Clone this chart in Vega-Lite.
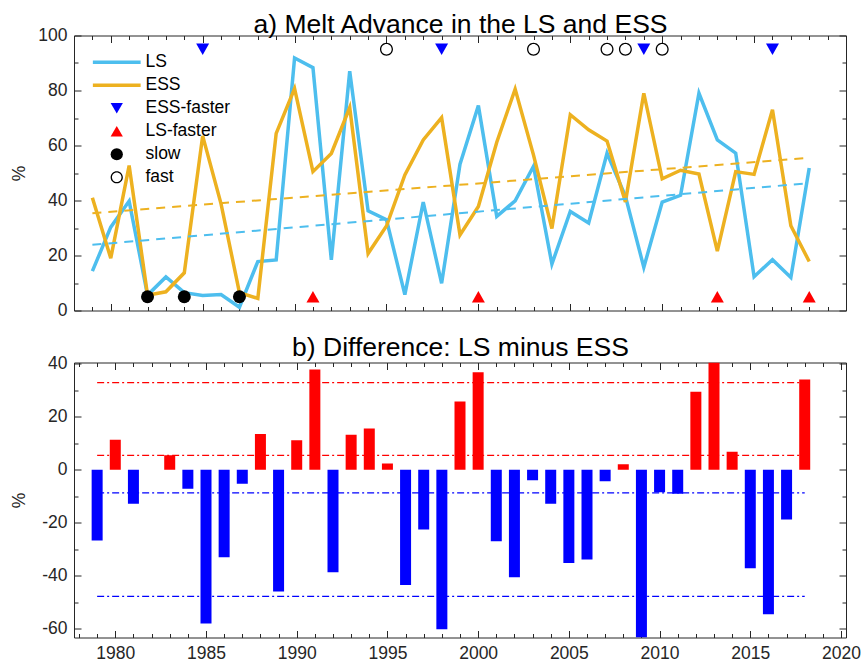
{
  "$schema": "https://vega.github.io/schema/vega-lite/v6.json",
  "padding": {"left": 9, "top": 10.5, "right": 0, "bottom": 0},
  "bounds": "flush",
  "spacing": 52,
  "resolve": {"scale": {"color": "independent", "stroke": "independent", "fill": "independent", "shape": "independent"}},
  "config": {
    "font": "Liberation Sans",
    "view": {"stroke": "#262626", "strokeWidth": 1},
    "axis": {
      "domain": false,
      "grid": false,
      "tickColor": "#262626",
      "tickWidth": 1,
      "labelFont": "Liberation Sans",
      "labelFontSize": 17.5,
      "labelColor": "#262626",
      "labelOverlap": false,
      "labelFlush": false,
      "labelBound": false,
      "titleFont": "Liberation Sans",
      "titleFontSize": 17.5,
      "titleFontWeight": "normal",
      "titleColor": "#262626"
    }
  },
  "datasets": {
    "melt": [
      {"year": 1979, "LS": 14.3, "ESS": 41.0, "diff": -26.7},
      {"year": 1980, "LS": 30.3, "ESS": 19.0, "diff": 11.3},
      {"year": 1981, "LS": 39.8, "ESS": 52.7, "diff": -12.9},
      {"year": 1982, "LS": 5.6, "ESS": 5.6, "diff": 0.0},
      {"year": 1983, "LS": 12.2, "ESS": 6.8, "diff": 5.4},
      {"year": 1984, "LS": 6.5, "ESS": 13.7, "diff": -7.2},
      {"year": 1985, "LS": 5.5, "ESS": 63.5, "diff": -58.0},
      {"year": 1986, "LS": 5.8, "ESS": 38.8, "diff": -33.0},
      {"year": 1987, "LS": 1.2, "ESS": 6.5, "diff": -5.3},
      {"year": 1988, "LS": 17.8, "ESS": 4.4, "diff": 13.4},
      {"year": 1989, "LS": 18.4, "ESS": 64.4, "diff": -46.0},
      {"year": 1990, "LS": 91.8, "ESS": 80.7, "diff": 11.1},
      {"year": 1991, "LS": 88.3, "ESS": 50.5, "diff": 37.8},
      {"year": 1992, "LS": 18.4, "ESS": 57.1, "diff": -38.7},
      {"year": 1993, "LS": 87.0, "ESS": 73.8, "diff": 13.2},
      {"year": 1994, "LS": 36.2, "ESS": 20.7, "diff": 15.5},
      {"year": 1995, "LS": 33.0, "ESS": 30.7, "diff": 2.3},
      {"year": 1996, "LS": 5.8, "ESS": 49.3, "diff": -43.5},
      {"year": 1997, "LS": 39.4, "ESS": 62.0, "diff": -22.6},
      {"year": 1998, "LS": 9.9, "ESS": 70.1, "diff": -60.2},
      {"year": 1999, "LS": 53.2, "ESS": 27.5, "diff": 25.7},
      {"year": 2000, "LS": 74.5, "ESS": 37.8, "diff": 36.7},
      {"year": 2001, "LS": 34.2, "ESS": 61.2, "diff": -27.0},
      {"year": 2002, "LS": 39.9, "ESS": 80.5, "diff": -40.6},
      {"year": 2003, "LS": 52.5, "ESS": 56.5, "diff": -4.0},
      {"year": 2004, "LS": 16.9, "ESS": 29.8, "diff": -12.9},
      {"year": 2005, "LS": 36.0, "ESS": 71.2, "diff": -35.2},
      {"year": 2006, "LS": 31.8, "ESS": 65.7, "diff": -33.9},
      {"year": 2007, "LS": 57.2, "ESS": 61.6, "diff": -4.4},
      {"year": 2008, "LS": 41.5, "ESS": 39.5, "diff": 2.0},
      {"year": 2009, "LS": 15.7, "ESS": 79.0, "diff": -63.3},
      {"year": 2010, "LS": 39.4, "ESS": 47.9, "diff": -8.5},
      {"year": 2011, "LS": 41.9, "ESS": 51.0, "diff": -9.1},
      {"year": 2012, "LS": 79.0, "ESS": 49.6, "diff": 29.4},
      {"year": 2013, "LS": 62.0, "ESS": 21.6, "diff": 40.4},
      {"year": 2014, "LS": 57.2, "ESS": 50.5, "diff": 6.7},
      {"year": 2015, "LS": 12.3, "ESS": 49.5, "diff": -37.2},
      {"year": 2016, "LS": 18.5, "ESS": 73.0, "diff": -54.5},
      {"year": 2017, "LS": 12.0, "ESS": 30.8, "diff": -18.8},
      {"year": 2018, "LS": 51.8, "ESS": 17.8, "diff": 34.0}
    ],
    "trend": [
      {"series": "LS", "year": 1979, "pct": 23.9},
      {"series": "LS", "year": 2018, "pct": 46.3},
      {"series": "ESS", "year": 1979, "pct": 35.4},
      {"series": "ESS", "year": 2018, "pct": 55.5}
    ],
    "events": [
      {"year": 1985, "cat": "ESS-faster", "pct": 95},
      {"year": 1998, "cat": "ESS-faster", "pct": 95},
      {"year": 2009, "cat": "ESS-faster", "pct": 95},
      {"year": 2016, "cat": "ESS-faster", "pct": 95},
      {"year": 1991, "cat": "LS-faster", "pct": 5},
      {"year": 2000, "cat": "LS-faster", "pct": 5},
      {"year": 2013, "cat": "LS-faster", "pct": 5},
      {"year": 2018, "cat": "LS-faster", "pct": 5},
      {"year": 1982, "cat": "slow", "pct": 5},
      {"year": 1984, "cat": "slow", "pct": 5},
      {"year": 1987, "cat": "slow", "pct": 5},
      {"year": 1995, "cat": "fast", "pct": 95},
      {"year": 2003, "cat": "fast", "pct": 95},
      {"year": 2007, "cat": "fast", "pct": 95},
      {"year": 2008, "cat": "fast", "pct": 95},
      {"year": 2010, "cat": "fast", "pct": 95}
    ],
    "bands": [
      {"kind": "pos", "start": 1979, "end": 2018, "value": 32.8},
      {"kind": "pos", "start": 1979, "end": 2018, "value": 5.4},
      {"kind": "neg", "start": 1979, "end": 2018, "value": -8.8},
      {"kind": "neg", "start": 1979, "end": 2018, "value": -47.8}
    ]
  },
  "vconcat": [
    {
      "width": 772,
      "height": 275,
      "resolve": {"axis": {"x": "independent", "y": "independent"}},
      "layer": [
        {
          "data": {"name": "melt"},
          "transform": [{"fold": ["LS", "ESS"], "as": ["series", "pct"]}],
          "mark": {"type": "line", "strokeWidth": 3.5, "clip": true},
          "encoding": {
            "x": {
              "field": "year", "type": "quantitative",
              "scale": {"domain": [1978, 2020], "nice": false, "zero": false},
              "axis": {
                "orient": "bottom", "title": null, "labels": false,
                "values": [1978,1979,1980,1981,1982,1983,1984,1985,1986,1987,1988,1989,1990,1991,1992,1993,1994,1995,1996,1997,1998,1999,2000,2001,2002,2003,2004,2005,2006,2007,2008,2009,2010,2011,2012,2013,2014,2015,2016,2017,2018,2019,2020],
                "tickSize": {"condition": {"test": "datum.value % 5 === 0", "value": -7}, "value": -4}
              }
            },
            "y": {
              "field": "pct", "type": "quantitative",
              "scale": {"domain": [0, 100], "nice": false},
              "axis": {
                "orient": "left", "title": "%", "titleX": -55, "titleY": 137.5, "titleAngle": 270, "titleAlign": "center", "titleBaseline": "middle",
                "values": [0,10,20,30,40,50,60,70,80,90,100],
                "labelExpr": "datum.value % 20 === 0 ? '' + datum.value : ''",
                "labelPadding": 14,
                "tickSize": {"condition": {"test": "datum.value % 20 === 0", "value": -7}, "value": -4}
              }
            },
            "stroke": {
              "field": "series", "type": "nominal",
              "scale": {"domain": ["LS", "ESS", "ESS-faster", "LS-faster", "slow", "fast"], "range": ["#4DBEEE", "#EDB120", "#0000FF", "#FF0000", "#000000", "#000000"]},
              "legend": {
                "orient": "none", "legendX": 34, "legendY": 18, "title": null,
                "labelFont": "Liberation Sans", "labelFontSize": 17.5, "labelColor": "#000000",
                "symbolSize": 150, "symbolStrokeWidth": 0, "rowPadding": 4, "labelOffset": 20, "symbolOffset": 0,
                "encode": {
                  "symbols": {
                    "update": {
                      "shape": {"signal": "datum.value === 'LS' || datum.value === 'ESS' ? 'M-3.9,-0.29H3.9V0.29H-3.9Z' : datum.value === 'ESS-faster' ? 'triangle-down' : datum.value === 'LS-faster' ? 'triangle-up' : datum.value === 'slow' ? 'circle' : 'M-1,0A1,1,0,1,0,1,0A1,1,0,1,0,-1,0ZM-0.78,0A0.78,0.78,0,1,1,0.78,0A0.78,0.78,0,1,1,-0.78,0Z'"},
                      "fill": {"signal": "datum.value === 'LS' ? '#4DBEEE' : datum.value === 'ESS' ? '#EDB120' : datum.value === 'ESS-faster' ? '#0000FF' : datum.value === 'LS-faster' ? '#FF0000' : '#000000'"},
                      "stroke": {"value": "transparent"},
                      "opacity": {"value": 1},
                      "fillOpacity": {"value": 1}
                    }
                  }
                }
              }
            }
          }
        },
        {
          "data": {"name": "trend"},
          "mark": {"type": "line", "strokeWidth": 2, "strokeDash": [9, 7]},
          "encoding": {
            "x": {
              "field": "year", "type": "quantitative",
              "scale": {"domain": [1978, 2020], "nice": false, "zero": false},
              "axis": {
                "orient": "top", "labels": false,
                "title": "a) Melt Advance in the LS and ESS",
                "titleFontSize": 26.5, "titleColor": "#000000", "titleFontWeight": "normal",
                "titleX": 386, "titleY": -2.6, "titleAlign": "center", "titleBaseline": "alphabetic",
                "values": [1978,1979,1980,1981,1982,1983,1984,1985,1986,1987,1988,1989,1990,1991,1992,1993,1994,1995,1996,1997,1998,1999,2000,2001,2002,2003,2004,2005,2006,2007,2008,2009,2010,2011,2012,2013,2014,2015,2016,2017,2018,2019,2020],
                "tickSize": {"condition": {"test": "datum.value % 5 === 0", "value": -7}, "value": -4}
              }
            },
            "y": {
              "field": "pct", "type": "quantitative",
              "scale": {"domain": [0, 100], "nice": false},
              "axis": {
                "orient": "right", "title": null, "labels": false,
                "values": [0,10,20,30,40,50,60,70,80,90,100],
                "tickSize": {"condition": {"test": "datum.value % 20 === 0", "value": -7}, "value": -4}
              }
            },
            "color": {
              "field": "series", "type": "nominal",
              "scale": {"domain": ["LS", "ESS"], "range": ["#4DBEEE", "#EDB120"]},
              "legend": null
            }
          }
        },
        {
          "data": {"name": "events"},
          "mark": {"type": "point", "filled": true, "size": 169, "opacity": 1, "strokeWidth": 0},
          "encoding": {
            "x": {"field": "year", "type": "quantitative", "scale": {"domain": [1978, 2020], "nice": false, "zero": false}, "axis": null},
            "y": {"field": "pct", "type": "quantitative", "scale": {"domain": [0, 100], "nice": false}, "axis": null},
            "shape": {
              "field": "cat", "type": "nominal",
              "scale": {"domain": ["ESS-faster", "LS-faster", "slow", "fast"], "range": ["triangle-down", "triangle-up", "circle", "M-1,0A1,1,0,1,0,1,0A1,1,0,1,0,-1,0ZM-0.8,0A0.8,0.8,0,1,1,0.8,0A0.8,0.8,0,1,1,-0.8,0Z"]},
              "legend": null
            },
            "fill": {
              "field": "cat", "type": "nominal",
              "scale": {"domain": ["ESS-faster", "LS-faster", "slow", "fast"], "range": ["#0000FF", "#FF0000", "#000000", "#000000"]},
              "legend": null
            }
          }
        }
      ]
    },
    {
      "width": 772,
      "height": 275,
      "resolve": {"axis": {"x": "independent", "y": "independent"}},
      "layer": [
        {
          "data": {"name": "melt"},
          "mark": {"type": "bar", "size": 11, "clip": true},
          "encoding": {
            "x": {
              "field": "year", "type": "quantitative",
              "scale": {"domain": [1978, 2020], "nice": false, "zero": false},
              "axis": {
                "orient": "bottom", "title": null,
                "values": [1978,1979,1980,1981,1982,1983,1984,1985,1986,1987,1988,1989,1990,1991,1992,1993,1994,1995,1996,1997,1998,1999,2000,2001,2002,2003,2004,2005,2006,2007,2008,2009,2010,2011,2012,2013,2014,2015,2016,2017,2018,2019,2020],
                "labelExpr": "datum.value % 5 === 0 ? '' + datum.value : ''",
                "labelPadding": 14,
                "tickSize": {"condition": {"test": "datum.value % 5 === 0", "value": -7}, "value": -4}
              }
            },
            "y": {
              "field": "diff", "type": "quantitative",
              "scale": {"domain": [-63.3, 40.4], "nice": false},
              "axis": {
                "orient": "left", "title": "%", "titleX": -55, "titleY": 137.5, "titleAngle": 270, "titleAlign": "center", "titleBaseline": "middle",
                "values": [-60,-50,-40,-30,-20,-10,0,10,20,30,40],
                "labelExpr": "datum.value % 20 === 0 ? '' + datum.value : ''",
                "labelPadding": 14,
                "tickSize": {"condition": {"test": "datum.value % 20 === 0", "value": -7}, "value": -4}
              }
            },
            "color": {"condition": {"test": "datum.diff > 0", "value": "#FF0000"}, "value": "#0000FF"}
          }
        },
        {
          "data": {"name": "bands"},
          "mark": {"type": "rule", "strokeWidth": 1.2, "strokeDash": [7, 3, 2, 3]},
          "encoding": {
            "x": {
              "field": "start", "type": "quantitative",
              "scale": {"domain": [1978, 2020], "nice": false, "zero": false},
              "axis": {
                "orient": "top", "labels": false,
                "title": "b) Difference: LS minus ESS",
                "titleFontSize": 26.5, "titleColor": "#000000", "titleFontWeight": "normal",
                "titleX": 386, "titleY": -7.3, "titleAlign": "center", "titleBaseline": "alphabetic",
                "values": [1978,1979,1980,1981,1982,1983,1984,1985,1986,1987,1988,1989,1990,1991,1992,1993,1994,1995,1996,1997,1998,1999,2000,2001,2002,2003,2004,2005,2006,2007,2008,2009,2010,2011,2012,2013,2014,2015,2016,2017,2018,2019,2020],
                "tickSize": {"condition": {"test": "datum.value % 5 === 0", "value": -7}, "value": -4}
              }
            },
            "x2": {"field": "end"},
            "y": {
              "field": "value", "type": "quantitative",
              "scale": {"domain": [-63.3, 40.4], "nice": false},
              "axis": {
                "orient": "right", "title": null, "labels": false,
                "values": [-60,-50,-40,-30,-20,-10,0,10,20,30,40],
                "tickSize": {"condition": {"test": "datum.value % 20 === 0", "value": -7}, "value": -4}
              }
            },
            "color": {
              "field": "kind", "type": "nominal",
              "scale": {"domain": ["pos", "neg"], "range": ["#FF0000", "#0000FF"]},
              "legend": null
            }
          }
        },
        {
          "mark": {"type": "rule", "color": "#6E6E6E", "strokeWidth": 1.2},
          "encoding": {
            "y": {"datum": 0, "type": "quantitative", "scale": {"domain": [-63.3, 40.4], "nice": false}, "axis": null}
          }
        }
      ]
    }
  ]
}
